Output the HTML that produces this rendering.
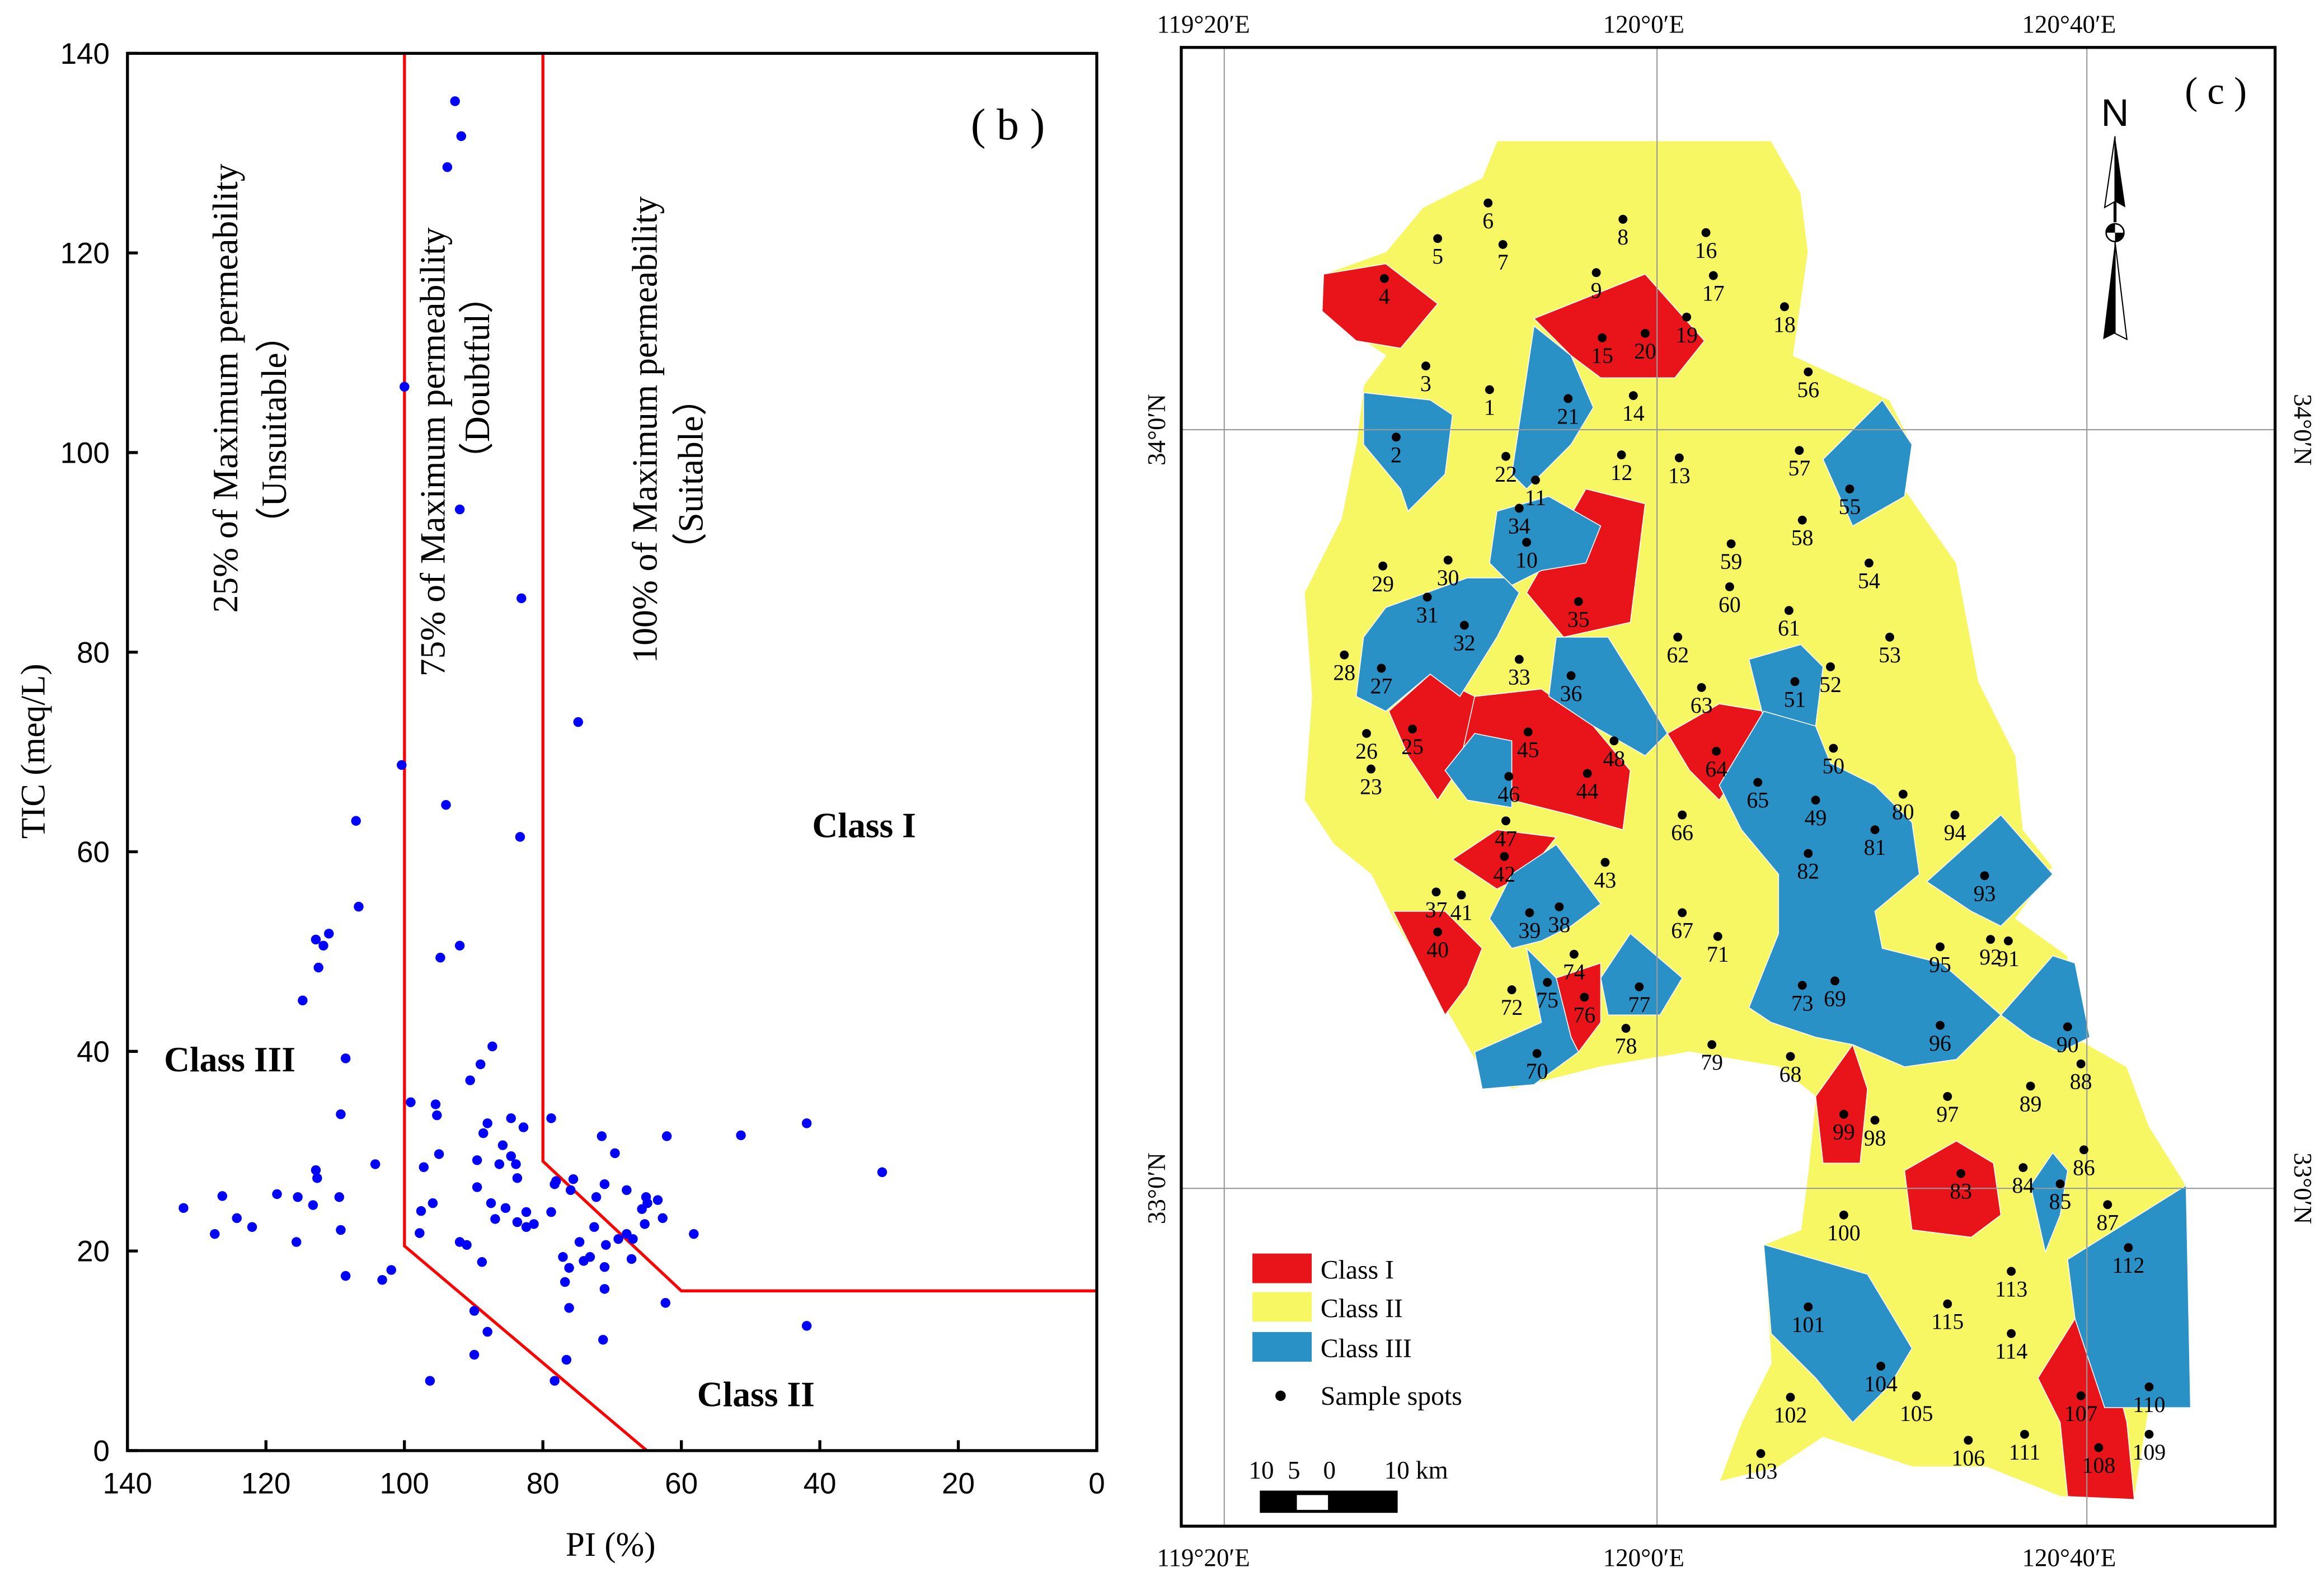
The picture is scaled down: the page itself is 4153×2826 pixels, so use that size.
<!DOCTYPE html>
<html><head><meta charset="utf-8"><style>
html,body{margin:0;padding:0;background:#fff;}
svg{display:block;}
text{font-family:"Liberation Serif",serif;}
.sans{font-family:"Liberation Sans",sans-serif;}
</style></head><body>
<svg id="fig" width="4153" height="2826" viewBox="0 0 1568 1067" preserveAspectRatio="none" xmlns="http://www.w3.org/2000/svg">
<rect x="0" y="0" width="1568" height="1067" fill="#fff"/>
<g id="chartB">
  <g id="redlines"></g>
  <g id="dots"></g>
  <rect x="86" y="36" width="654" height="943" fill="none" stroke="#000" stroke-width="2"/>
  <g id="ticks"></g>
  <text x="0" y="0" transform="translate(30,507) rotate(-90)" text-anchor="middle" font-size="23">TIC (meq/L)</text>
  <text x="412" y="1050" text-anchor="middle" font-size="23">PI (%)</text>
  <text x="680" y="94" text-anchor="middle" font-size="30">( b )</text>
  <g font-size="24">
  <text transform="translate(160,262) rotate(-90)" text-anchor="middle">25% of Maximum permeability</text>
  <text transform="translate(193,290) rotate(-90)" text-anchor="middle">（Unsuitable）</text>
  <text transform="translate(300,305) rotate(-90)" text-anchor="middle">75% of Maximum permeability</text>
  <text transform="translate(330,255) rotate(-90)" text-anchor="middle">（Doubtful）</text>
  <text transform="translate(443,290) rotate(-90)" text-anchor="middle">100% of Maximum permeability</text>
  <text transform="translate(474,320) rotate(-90)" text-anchor="middle">（Suitable）</text>
  </g>
  <text x="583" y="565" text-anchor="middle" font-size="24" font-weight="bold">Class I</text>
  <text x="155" y="723" text-anchor="middle" font-size="24" font-weight="bold">Class III</text>
  <text x="510" y="949" text-anchor="middle" font-size="24" font-weight="bold">Class II</text>
</g>

<g id="mapC">
  <g id="polys"></g>
  <g stroke="#999" stroke-width="0.8" fill="none">
    <line x1="826" y1="32" x2="826" y2="1030"/>
    <line x1="1118" y1="32" x2="1118" y2="1030"/>
    <line x1="1408" y1="32" x2="1408" y2="1030"/>
    <line x1="797" y1="290" x2="1535" y2="290"/>
    <line x1="797" y1="802" x2="1535" y2="802"/>
  </g>
  <g id="spots"></g>
  <rect x="797" y="32" width="738" height="998" fill="none" stroke="#000" stroke-width="2"/>
  <g font-size="17">
    <text x="812" y="22" text-anchor="middle">119°20′E</text>
    <text x="1109" y="22" text-anchor="middle">120°0′E</text>
    <text x="1396" y="22" text-anchor="middle">120°40′E</text>
    <text x="812" y="1057" text-anchor="middle">119°20′E</text>
    <text x="1109" y="1057" text-anchor="middle">120°0′E</text>
    <text x="1396" y="1057" text-anchor="middle">120°40′E</text>
    <text transform="translate(786,290) rotate(-90)" text-anchor="middle">34°0′N</text>
    <text transform="translate(786,802) rotate(-90)" text-anchor="middle">33°0′N</text>
    <text transform="translate(1548,290) rotate(90)" text-anchor="middle">34°0′N</text>
    <text transform="translate(1548,802) rotate(90)" text-anchor="middle">33°0′N</text>
  </g>
  <text x="1495" y="70" text-anchor="middle" font-size="26">( c )</text>
  <g>
    <text class="sans" x="1427" y="85" text-anchor="middle" font-size="26">N</text>
    <polygon points="1427,92 1420,140 1427,136" fill="#fff" stroke="#000" stroke-width="0.8"/>
    <polygon points="1427,92 1434,140 1427,136" fill="#000"/>
    <line x1="1427" y1="136" x2="1427" y2="150" stroke="#000" stroke-width="2"/>
    <circle cx="1427" cy="157" r="6" fill="#fff" stroke="#000" stroke-width="1"/>
    <path d="M1421,157 A6,6 0 0,1 1427,151 L1427,157 Z" fill="#000"/>
    <path d="M1433,157 A6,6 0 0,1 1427,163 L1427,157 Z" fill="#000"/>
    <polygon points="1427,163 1419,229 1427,225" fill="#000"/>
    <polygon points="1427,163 1435,229 1427,225" fill="#fff" stroke="#000" stroke-width="0.8"/>
  </g>
  <g font-size="18">
    <rect x="845" y="846" width="40" height="20" fill="#e8141a"/>
    <text x="891" y="863">Class I</text>
    <rect x="845" y="872" width="40" height="20" fill="#f7f763"/>
    <text x="891" y="889">Class II</text>
    <rect x="845" y="899" width="40" height="20" fill="#2a91c6"/>
    <text x="891" y="916">Class III</text>
    <circle cx="864" cy="942" r="3.5" fill="#000"/>
    <text x="891" y="948">Sample spots</text>
  </g>
  <g font-size="17">
    <text x="851" y="998" text-anchor="middle">10</text>
    <text x="873" y="998" text-anchor="middle">5</text>
    <text x="897" y="998" text-anchor="middle">0</text>
    <text x="934" y="998">10 km</text>
    <rect x="850" y="1006" width="93" height="15" fill="#000"/>
    <rect x="875" y="1009" width="21" height="10" fill="#fff"/>
  </g>
</g>

<script>
// ---- Chart (b) data ----
const piValues = [92.7,91.8,93.8,100.0,92.0,83.1,74.9,100.4,94.0,107.0,83.3,106.6,92.0,94.8,112.8,110.9,111.7,112.4,114.7,87.3,108.5,89.0,90.5,99.1,95.5,109.2,95.3,84.6,82.8,78.8,88.0,88.6,71.5,85.8,104.2,95.0,84.6,89.5,83.9,112.6,118.4,78.1,89.5,83.7,78.3,97.2,131.9,126.3,124.2,122.0,115.4,109.4,112.8,71.1,75.6,67.9,65.1,63.4,62.7,65.7,51.4,41.9,62.1,69.6,31.0,76.0,72.3,85.4,87.5,82.4,81.3,78.8,86.9,83.7,82.4,95.9,97.6,67.9,67.0,69.1,72.6,74.7,74.1,76.2,76.8,71.1,76.2,58.2,62.3,113.2,115.6,109.2,97.8,92.0,101.9,103.2,108.5,127.4,89.9,88.0,89.9,71.1,73.2,77.1,71.3,76.6,78.3,96.3,41.9,64.9,65.3,67.2,88.8,91.0,86.3,70.9];
const ticValues = [135.2,131.7,128.6,106.6,94.3,85.4,73.0,68.7,64.7,63.1,61.5,54.5,50.6,49.4,51.2,51.8,50.6,48.4,45.1,40.5,39.3,38.7,37.1,34.9,34.7,33.7,33.6,33.3,32.4,33.3,32.8,31.8,31.5,30.6,28.7,29.7,29.5,29.1,28.7,27.3,25.7,27.0,26.4,27.3,26.7,28.4,24.3,25.5,23.3,22.4,25.4,25.4,28.1,26.7,27.2,26.1,25.4,25.1,23.3,24.2,31.6,32.8,31.5,29.8,27.9,26.1,25.4,24.3,24.8,23.9,22.7,23.9,23.2,22.9,22.4,24.8,24.0,21.7,21.2,21.2,22.4,20.9,19.0,18.3,16.9,16.2,14.3,21.7,14.8,24.6,20.9,22.1,21.8,20.9,18.1,17.1,17.5,21.7,14.0,11.9,9.6,18.4,19.4,19.4,11.1,9.1,7.0,7.0,12.5,24.8,22.7,19.2,18.9,20.6,28.7,20.6];
const xTicks = [140,120,100,80,60,40,20,0];
const yTicks = [0,20,40,60,80,100,120,140];
const line75PI = [100,100,65];
const line75TIC = [140,20.5,0];
const line100PI = [80,80,60,0];
const line100TIC = [140,29,16,16];

// ---- Map (c) sample spots ----
const spotIds = [1,2,3,4,5,6,7,8,9,10,11,12,13,14,15,16,17,18,19,20,21,22,23,25,26,27,28,29,30,31,32,33,34,35,36,37,38,39,40,41,42,43,44,45,46,47,48,49,50,51,52,53,54,55,56,57,58,59,60,61,62,63,64,65,66,67,68,69,70,71,72,73,74,75,76,77,78,79,80,81,82,83,84,85,86,87,88,89,90,91,92,93,94,95,96,97,98,99,100,101,102,103,104,105,106,107,108,109,110,111,112,113,114,115];
const spotX = [1005,942,962,934,970,1004,1014,1095,1077,1030,1036,1094,1133,1102,1081,1151,1156,1204,1138,1110,1058,1016,925,953,922,932,907,933,977,963,988,1025,1025,1065,1060,969,1052,1032,970,986,1015,1083,1071,1031,1018,1016,1089,1225,1237,1211,1235,1275,1261,1248,1220,1214,1216,1168,1167,1207,1132,1148,1158,1186,1135,1135,1208,1238,1037,1159,1020,1216,1062,1044,1069,1106,1097,1155,1284,1265,1220,1323,1365,1390,1406,1422,1404,1370,1395,1355,1343,1339,1319,1309,1309,1314,1265,1244,1244,1220,1208,1188,1269,1293,1328,1404,1416,1450,1450,1366,1436,1357,1357,1314];
const spotY = [263,295,247,188,161,137,165,148,184,366,324,307,309,267,228,157,186,207,214,225,269,308,519,492,495,451,442,382,378,403,422,445,343,406,456,602,612,616,629,604,578,582,522,494,524,554,500,540,505,460,450,430,380,330,251,304,351,367,396,412,430,464,507,528,550,616,713,662,711,632,668,665,644,663,673,666,694,705,536,560,576,792,788,799,776,813,718,733,693,635,634,591,550,639,692,740,756,752,820,882,943,981,922,942,972,942,977,968,936,968,842,858,900,880];

const NS = 'http://www.w3.org/2000/svg';
const X0 = 86, X1 = 740, Y0 = 979, Y1 = 36;
function xs(v){ return X0 + (140 - v) / 140 * (X1 - X0); }
function ys(v){ return Y0 - v / 140 * (Y0 - Y1); }
function mk(tag, attrs, parent){ const e = document.createElementNS(NS, tag); for (const k in attrs) e.setAttribute(k, attrs[k]); parent.appendChild(e); return e; }

const redG = document.getElementById('redlines');
function poly(pis, tics, name){
  const pts = pis.map((p,i)=> xs(p).toFixed(1)+','+ys(tics[i]).toFixed(1)).join(' ');
  const e = mk('polyline', {points:pts, fill:'none', stroke:'#f00', 'stroke-width':2}, redG);
  
  
}
poly(line75PI, line75TIC, 'boundary-75-percent');
poly(line100PI, line100TIC, 'boundary-100-percent');

const dotG = document.getElementById('dots');
piValues.forEach((p,i)=>{
  const c = mk('circle', {cx:xs(p).toFixed(1), cy:ys(ticValues[i]).toFixed(1), r:3.3, fill:'#0000ff'}, dotG);
  
  
});

const tg = document.getElementById('ticks');
xTicks.forEach(v=>{
  const x = xs(v);
  mk('line', {x1:x, y1:Y0, x2:x, y2:Y0-7, stroke:'#000', 'stroke-width':2}, tg);
  const t = mk('text', {x:x, y:1008, 'text-anchor':'middle', 'font-size':20, class:'sans'}, tg);
  t.textContent = v;
  
  
});
yTicks.forEach(v=>{
  const y = ys(v);
  mk('line', {x1:X0, y1:y, x2:X0+7, y2:y, stroke:'#000', 'stroke-width':2}, tg);
  const t = mk('text', {x:74, y:y+7, 'text-anchor':'end', 'font-size':20, class:'sans'}, tg);
  t.textContent = v;
  
  
});

// ---- Map polygons ----
const yellowOutline = "1010,95 1195,95 1215,130 1220,170 1210,240 1275,270 1290,300 1285,330 1320,380 1335,460 1360,510 1365,560 1385,585 1360,620 1395,645 1400,700 1435,720 1450,760 1475,800 1478,950 1450,950 1440,1012 1390,1010 1340,990 1290,990 1230,970 1200,990 1160,1000 1175,960 1195,920 1190,840 1215,830 1220,790 1225,740 1200,720 1140,710 1080,720 1020,735 995,715 975,680 940,620 925,590 900,570 880,540 885,470 880,400 905,350 915,300 920,260 935,240 905,220 892,210 893,185 935,170 960,140 1000,120";
const redPolys = [
"893,185 935,178 970,205 945,235 915,230 892,210",
"1035,215 1110,185 1150,230 1130,255 1080,255 1060,240",
"1030,400 1070,330 1110,340 1100,420 1055,430",
"937,480 965,455 995,470 990,510 970,540 950,510",
"995,470 1040,465 1075,490 1100,520 1095,560 1060,550 1020,540 985,515",
"1125,495 1160,475 1190,480 1180,510 1160,540 1140,520",
"980,580 1010,560 1050,565 1030,590 1010,600",
"940,615 975,615 1000,640 990,665 975,685 960,655",
"1050,660 1080,650 1080,690 1065,710 1055,690",
"1225,740 1250,705 1260,735 1255,785 1230,785",
"1285,790 1320,770 1345,785 1350,820 1330,835 1290,830",
"1375,930 1400,890 1425,920 1435,960 1440,1012 1395,1010 1390,960"];
const bluePolys = [
"920,265 965,270 980,280 975,320 950,345 945,330 920,300",
"1035,220 1060,240 1075,275 1060,300 1045,315 1030,330 1020,320",
"1230,310 1270,270 1290,300 1285,335 1250,355",
"1010,345 1045,335 1080,355 1070,380 1040,385 1020,395 1005,380",
"935,410 990,390 1015,390 1025,400 1010,430 985,470 965,455 935,480 915,470 920,430",
"1050,430 1085,430 1110,470 1125,495 1110,510 1075,490 1045,470",
"1180,445 1215,435 1230,450 1225,490 1190,485",
"975,520 995,495 1020,500 1020,545 990,540",
"1160,530 1190,480 1225,490 1235,515 1265,530 1290,555 1295,590 1265,615 1270,640 1310,650 1350,685 1320,715 1285,720 1250,705 1225,700 1195,690 1180,680 1200,630 1200,590 1175,560",
"1300,595 1350,550 1385,590 1350,625 1330,615",
"1350,685 1385,645 1400,650 1410,700 1390,710 1370,700",
"1005,620 1020,590 1050,570 1080,610 1060,625 1040,635 1020,640",
"1030,640 1050,660 1060,700 1065,710 1035,732 1000,735 995,710 1040,690",
"1080,660 1100,630 1135,660 1120,685 1085,685",
"1370,800 1385,778 1395,790 1390,820 1380,845",
"1395,850 1475,800 1478,950 1420,950 1400,890",
"1190,840 1260,860 1290,910 1275,935 1250,960 1225,930 1195,900"];
const pg = document.getElementById('polys');
const yo = mk('polygon', {points:yellowOutline, fill:'#f7f763', stroke:'#fff', 'stroke-width':0.6}, pg);


redPolys.forEach(p=>{
  const e = mk('polygon', {points:p, fill:'#e8141a', stroke:'#fff', 'stroke-width':0.6}, pg);
  
  
});
bluePolys.forEach(p=>{
  const e = mk('polygon', {points:p, fill:'#2a91c6', stroke:'#fff', 'stroke-width':0.6}, pg);
  
  
});

const sg = document.getElementById('spots');
spotIds.forEach((id,i)=>{
  const c = mk('circle', {cx:spotX[i], cy:spotY[i], r:3, fill:'#000'}, sg);
  
  
  const t = mk('text', {x:spotX[i], y:spotY[i]+17, 'text-anchor':'middle', 'font-size':15}, sg);
  t.textContent = id;
  
  
});
</script>
</svg>
</body></html>
